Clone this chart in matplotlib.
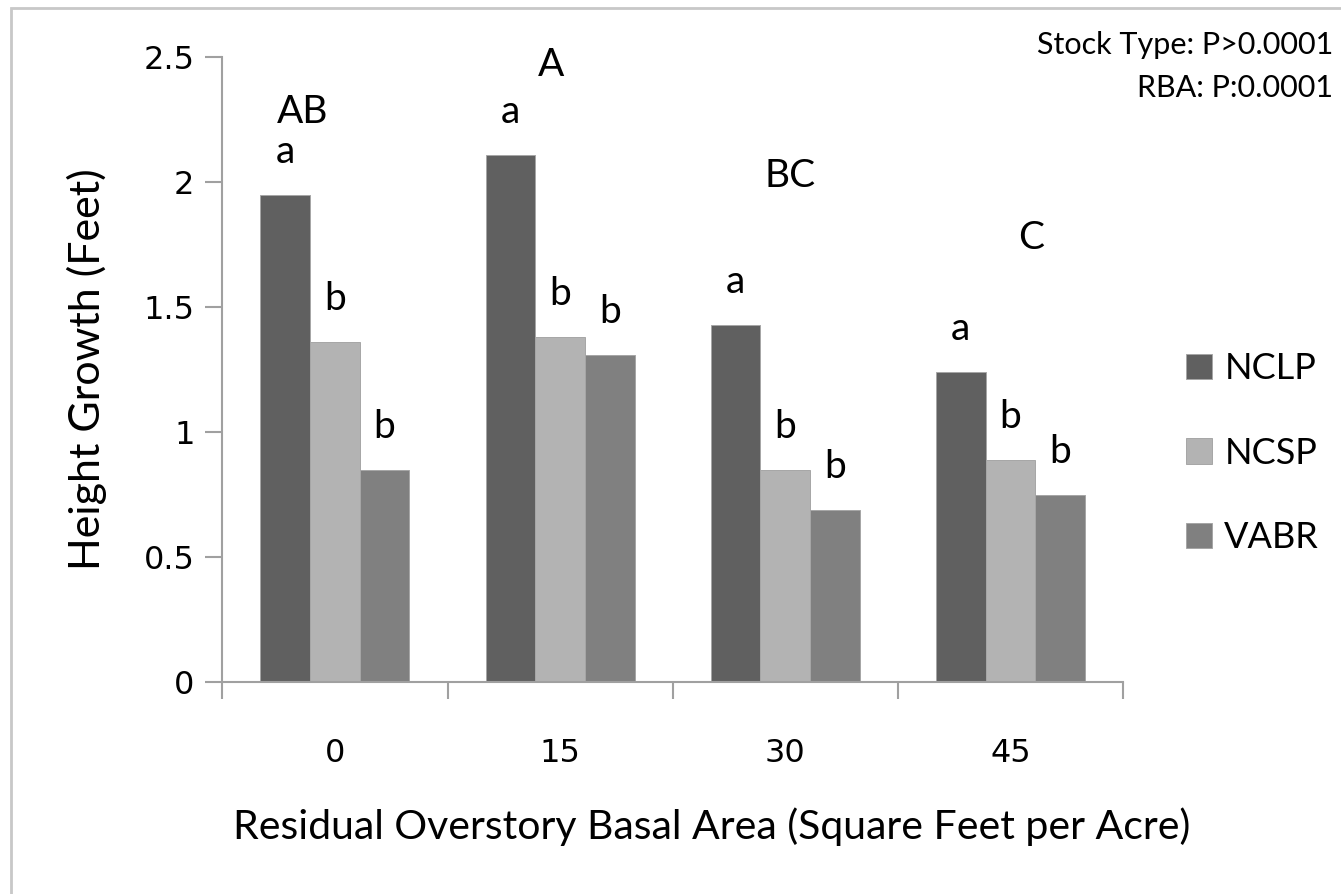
import matplotlib
matplotlib.use("Agg")
import matplotlib.pyplot as plt
from matplotlib.patches import Rectangle
import numpy as np

# Residual overstory basal area classes (sq ft / acre)
rba_classes = ["0", "15", "30", "45"]
stock_types = ["NCLP", "NCSP", "VABR"]

# Mean height growth (feet)
nclp = [1.95, 2.11, 1.43, 1.24]
ncsp = [1.36, 1.38, 0.85, 0.89]
vabr = [0.85, 1.31, 0.69, 0.75]

# Mean separation letters within each RBA class (stock type)
nclp_sig = ["a", "a", "a", "a"]
ncsp_sig = ["b", "b", "b", "b"]
vabr_sig = ["b", "b", "b", "b"]

# Mean separation letters among RBA classes
rba_sig = ["AB", "A", "BC", "C"]

stats_lines = ["Stock Type: P>0.0001", "RBA: P:0.0001"]

colors = ["#606060", "#b3b3b3", "#808080"]
series = [nclp, ncsp, vabr]
sig_letters = [nclp_sig, ncsp_sig, vabr_sig]

body_font = ["Lato", "DejaVu Sans"]
tick_font = "DejaVu Sans"

fig = plt.figure(figsize=(13.41, 8.94), dpi=100)
ax = fig.add_axes([222.3 / 1341, 1 - 682 / 894, (1123.1 - 222.3) / 1341, (682 - 57.3) / 894])

x = np.arange(len(rba_classes))
bar_w = 0.2207
offsets = [-bar_w, 0.0, bar_w]

bars = []
for vals, col, off, name, letters in zip(series, colors, offsets, stock_types, sig_letters):
    b = ax.bar(x + off, vals, width=bar_w, color=col, edgecolor="#a6a6a6",
               linewidth=0.7, label=name, zorder=2)
    bars.append(b)
    for rect, lab in zip(b, letters):
        ax.annotate(lab, (rect.get_x() + rect.get_width() / 2, rect.get_height()),
                    xytext=(0, 23), textcoords="offset points", ha="center",
                    va="baseline", fontsize=28, family=body_font)

# Group letters placed above each RBA cluster
rba_sig_pos = [(-0.145, 2.28), (-0.04, 2.47), (0.02, 2.025), (0.09, 1.777)]
for i, (lab, (dx, yy)) in enumerate(zip(rba_sig, rba_sig_pos)):
    ax.text(i + dx, yy, lab, ha="center", va="center", fontsize=28, family=body_font)

ax.set_xlim(-0.5, len(rba_classes) - 0.5)
ax.set_ylim(0, 2.5)
ax.set_yticks([0, 0.5, 1, 1.5, 2, 2.5])
ax.set_yticklabels(["0", "0.5", "1", "1.5", "2", "2.5"])

# Category labels centred, tick marks on category boundaries
ax.set_xticks(x)
ax.set_xticklabels(rba_classes)
ax.set_xticks(np.arange(-0.5, len(rba_classes)), minor=True)
ax.tick_params(axis="x", which="major", length=0, pad=40)
ax.tick_params(axis="x", which="minor", length=12, width=1.5, color="#a0a0a0", direction="out")
ax.tick_params(axis="y", length=12, width=1.5, color="#a0a0a0", direction="out", pad=8)
for lab in ax.get_xticklabels() + ax.get_yticklabels():
    lab.set_family(tick_font)
    lab.set_fontsize(23)

for side in ["top", "right"]:
    ax.spines[side].set_visible(False)
for side in ["left", "bottom"]:
    ax.spines[side].set_color("#a0a0a0")
    ax.spines[side].set_linewidth(1.5)

ax.set_xlabel("Residual Overstory Basal Area (Square Feet per Acre)",
              fontsize=29.5, family=body_font)
ax.xaxis.label.set_va("center")
ax.xaxis.set_label_coords(0.5437, -0.232)
ax.set_ylabel("Height Growth (Feet)", fontsize=31, family=body_font, labelpad=26)

leg = ax.legend(handles=bars, labels=stock_types, loc="center left",
                bbox_to_anchor=(1172 / 1341, 1 - 453 / 894), bbox_transform=fig.transFigure,
                frameon=False, prop={"family": body_font, "size": 26},
                handlelength=0.7, handleheight=0.7, handletextpad=0.35,
                labelspacing=1.43, borderaxespad=0)

fig.text(1333 / 1341, 1 - 45 / 894, stats_lines[0], ha="right", va="center",
         fontsize=22, family=body_font)
fig.text(1333 / 1341, 1 - 88 / 894, stats_lines[1], ha="right", va="center",
         fontsize=22, family=body_font)

# Light outer frame around the chart area
fig.patches.append(Rectangle((11 / 1341, -0.2), 1.5, 0.2 + 1 - 8 / 894,
                             transform=fig.transFigure, fill=False,
                             edgecolor="#c8c8c8", linewidth=2))

fig.savefig("out.png", dpi=100)
